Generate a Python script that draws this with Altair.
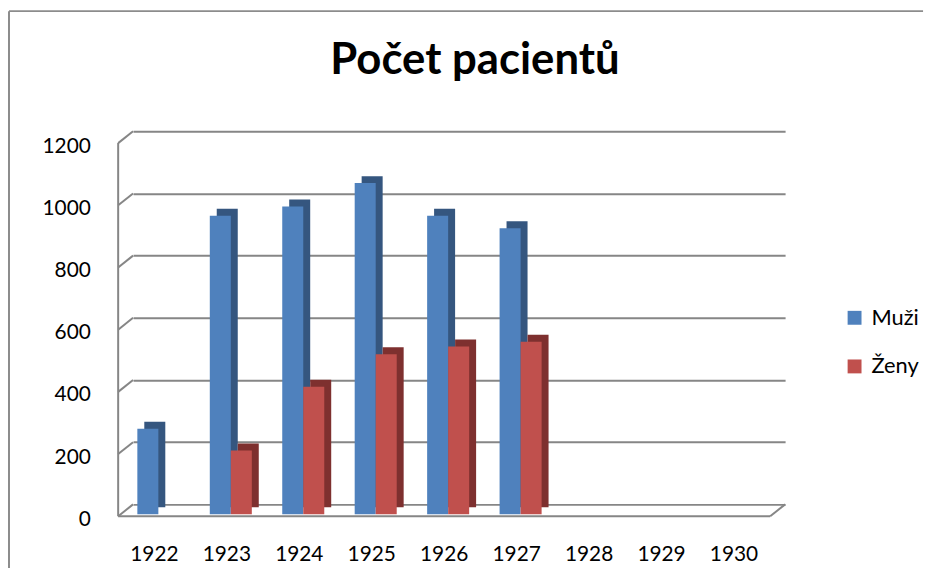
import altair as alt
import pandas as pd

years = ["1922", "1923", "1924", "1925", "1926", "1927", "1928", "1929", "1930"]
muzi = [275, 960, 990, 1065, 960, 920, None, None, None]
zeny = [0, 205, 410, 515, 540, 555, None, None, None]
series = ["Muži", "Ženy"]
colors = ["#4F81BD", "#C0504D"]
side_colors = ["#35567F", "#7E302F"]
ticks = [0, 200, 400, 600, 800, 1000, 1200]
title_text = ["Počet pacientů"]

rows = []
for i, y in enumerate(years):
    rows.append({"rok": y, "pohlaví": series[0], "počet": muzi[i]})
    rows.append({"rok": y, "pohlaví": series[1], "počet": zeny[i]})
df = pd.DataFrame(rows)
tick_df = pd.DataFrame({"v": ticks})
title_df = pd.DataFrame({"t": title_text})

FONT = "Lato"
GRID = "#868686"
DEPTH_X = 15
DEPTH_Y = 12
BAR_Y = 10
W, H = 657, 376
BAND = 73 * 0.58

x_enc = alt.X("rok:N", sort=years, scale=alt.Scale(domain=years, paddingInner=0.42, paddingOuter=0.21),
              axis=alt.Axis(title=None, labelAngle=0, labelFontSize=21, labelColor="#000000",
                            labelPadding=40, labelOffset=-DEPTH_X, ticks=False, domain=False,
                            grid=False, labelFont=FONT))
y_enc = alt.Y("počet:Q", scale=alt.Scale(domain=[0, 1200]),
              axis=alt.Axis(title=None, values=ticks, format="d", labelFontSize=21,
                            labelColor="#000000", labelPadding=43, labelOffset=DEPTH_Y + 3, ticks=False,
                            domain=False, gridColor=GRID, gridWidth=2, labelFont=FONT))

shadow = alt.Chart(df).mark_bar(yOffset=BAR_Y - 7).encode(
    x=x_enc, y=y_enc,
    xOffset=alt.XOffset("pohlaví:N", sort=series,
                        scale=alt.Scale(domain=series, range=[-DEPTH_X + 4 + 7, -DEPTH_X + 4 + 7 + BAND])),
    color=alt.Color("pohlaví:N", scale=alt.Scale(domain=series, range=side_colors), legend=None),
)

front = alt.Chart(df).mark_bar(yOffset=BAR_Y).encode(
    x=x_enc, y=y_enc,
    xOffset=alt.XOffset("pohlaví:N", sort=series,
                        scale=alt.Scale(domain=series, range=[-DEPTH_X + 4, -DEPTH_X + 4 + BAND])),
    color=alt.Color("pohlaví:N", sort=series, scale=alt.Scale(domain=series, range=colors),
                    legend=alt.Legend(title=None, labelFontSize=22, labelFont=FONT,
                                      symbolType="square", symbolSize=196, symbolStrokeWidth=0,
                                      rowPadding=27, orient="none", legendX=716, legendY=177,
                                      padding=0, labelColor="#000000", labelOffset=6)),
)

# front y-axis line and diagonal ticks to the back wall
front_axis = alt.Chart(tick_df).mark_rule(color=GRID, strokeWidth=2, yOffset=DEPTH_Y, y2Offset=DEPTH_Y).encode(
    x=alt.value(-DEPTH_X), y=alt.Y("min(v):Q"), y2=alt.Y2("max(v):Q"))
diag = alt.Chart(tick_df).mark_rule(color=GRID, strokeWidth=2, yOffset=DEPTH_Y, y2Offset=0).encode(
    x=alt.value(-DEPTH_X), x2=alt.value(0), y=alt.Y("v:Q"), y2=alt.Y2("v:Q"))
floor_front = alt.Chart(tick_df).transform_filter("datum.v == 0").mark_rule(
    color=GRID, strokeWidth=2, yOffset=DEPTH_Y, y2Offset=DEPTH_Y).encode(
    x=alt.value(-DEPTH_X), x2=alt.value(W - DEPTH_X), y=alt.Y("v:Q"), y2=alt.Y2("v:Q"))
floor_right = alt.Chart(tick_df).transform_filter("datum.v == 0").mark_rule(
    color=GRID, strokeWidth=2, yOffset=DEPTH_Y, y2Offset=0).encode(
    x=alt.value(W - DEPTH_X), x2=alt.value(W), y=alt.Y("v:Q"), y2=alt.Y2("v:Q"))

# outer chart frame (left and top edges)
frame_top = alt.Chart(tick_df).transform_filter("datum.v == 0").mark_rule(color="#8C8C8C", strokeWidth=2).encode(
    x=alt.value(-125), x2=alt.value(796), y=alt.value(-121))
frame_left = alt.Chart(tick_df).transform_filter("datum.v == 0").mark_rule(color="#8C8C8C", strokeWidth=2).encode(
    x=alt.value(-125), y=alt.value(-121), y2=alt.value(440))

title = alt.Chart(title_df).mark_text(font=FONT, fontSize=44, fontWeight="bold", color="#000000",
                                      align="center", baseline="alphabetic").encode(
    text="t:N", x=alt.value(W / 2 + 16), y=alt.value(-58))

chart = alt.layer(shadow, front, front_axis, diag, floor_front, floor_right, frame_top, frame_left, title).resolve_scale(
    color="independent", xOffset="independent").properties(
    width=W, height=H,
    padding={"left": 0, "top": 0, "right": 5, "bottom": 3},
).configure_view(stroke=None)

chart.save("out.html", embed_options={"renderer": "svg", "actions": False})
